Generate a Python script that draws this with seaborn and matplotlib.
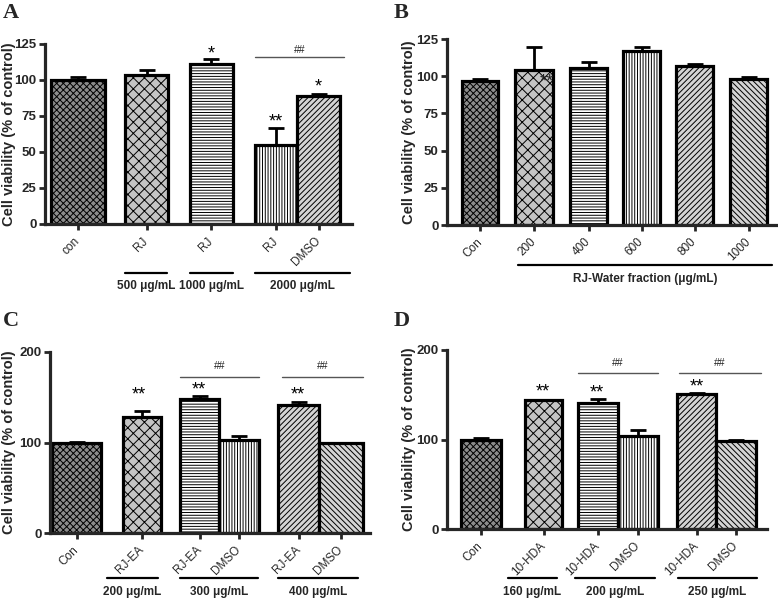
import numpy as np
import pandas as pd
import matplotlib
matplotlib.use("Agg")
import matplotlib.pyplot as plt
import seaborn as sns

# ---------------- data ----------------
A_labels = ['con', 'RJ', 'RJ', 'RJ', 'DMSO']
A_values = [100.0, 103.5, 111.3, 54.6, 88.7]
A_errors = [2.0, 3.2, 3.3, 12.3, 1.8]
A_marks = ['', '', '*', '**', '*']
A_mark_y = [0, 0, 120.8, 73.8, 98.1]
A_groups = ['500 μg/mL', '1000 μg/mL', '2000 μg/mL']

B_labels = ['Con', '200', '400', '600', '800', '1000']
B_values = [96.9, 104.1, 105.7, 117.1, 106.6, 98.0]
B_errors = [1.1, 15.2, 3.8, 2.7, 1.5, 1.6]
B_marks = ['', '**', '', '', '', '']
B_mark_y = [0, 99.1, 0, 0, 0, 0]
B_groups = ['RJ-Water fraction (μg/mL)']

C_labels = ['Con', 'RJ-EA', 'RJ-EA', 'DMSO', 'RJ-EA', 'DMSO']
C_values = [99.8, 128.5, 148.0, 102.4, 141.8, 99.0]
C_errors = [1.2, 6.5, 3.0, 4.6, 3.3, 1.0]
C_marks = ['', '**', '**', '', '**', '']
C_mark_y = [0, 157.0, 162.8, 0, 157.0, 0]
C_groups = ['200 μg/mL', '300 μg/mL', '400 μg/mL']

D_labels = ['Con', '10-HDA', '10-HDA', 'DMSO', '10-HDA', 'DMSO']
D_values = [100.0, 144.0, 140.5, 104.0, 151.0, 98.0]
D_errors = [2.0, 0.6, 4.5, 7.0, 0.6, 2.0]
D_marks = ['', '**', '**', '', '**', '']
D_mark_y = [0, 157.2, 157.0, 0, 162.8, 0]
D_groups = ['160 μg/mL', '200 μg/mL', '250 μg/mL']

YLABEL = 'Cell viability (% of control)'

# ---------------- style / layout ----------------
sns.set_style('ticks')
plt.rcParams['font.family'] = ['Liberation Sans', 'DejaVu Sans']
plt.rcParams['hatch.linewidth'] = 0.7

W, H = 778, 600
fig = plt.figure(figsize=(W / 100, H / 100), dpi=100)

CROSS = dict(h='xxxxx', fc='#8c8c8c')
CHECK = dict(h='xxx', fc='#c4c4c4')
HORZ = dict(h='------', fc='white')
VERT = dict(h='||||||', fc='white')
DIAG1 = dict(h='//////', fc='#d4d4d4')
DIAG2 = dict(h='\\\\\\\\\\\\', fc='#d4d4d4')

panels = [
    dict(letter='A', lpos=(3, 18), ylab_x=9, box=(45, 352, 44, 224), labels=A_labels, values=A_values,
         errors=A_errors, marks=A_marks, mark_y=A_mark_y, mark_x=[78, 146.5, 211, 276, 318.5],
         centers=[78, 146.5, 211, 276, 318.5], widths=[54, 43, 43, 42, 43],
         styles=[CROSS, CHECK, HORZ, VERT, DIAG1], ymax=125, yticks=[0, 25, 50, 75, 100, 125],
         groups=A_groups, gspans=[(125, 167), (190, 233), (255, 350)], gline_y=273, gtext_y=286,
         sig=[(255, 344, 116, 121)], mark_color='black'),
    dict(letter='B', lpos=(394, 18), ylab_x=409, box=(447, 777, 39, 225), labels=B_labels, values=B_values,
         errors=B_errors, marks=B_marks, mark_y=B_mark_y, mark_x=[480.5, 547, 588.5, 641.5, 694.5, 748.5],
         centers=[480.5, 534, 588.5, 641.5, 694.5, 748.5], widths=[36, 38, 37, 37, 37, 37],
         styles=[CROSS, CHECK, HORZ, VERT, DIAG1, DIAG2], ymax=125, yticks=[0, 25, 50, 75, 100, 125],
         groups=B_groups, gspans=[(518, 772)], gline_y=265, gtext_y=279, sig=[], mark_color='#222222'),
    dict(letter='C', lpos=(3, 326), ylab_x=9, box=(50, 370, 352, 533), labels=C_labels, values=C_values,
         errors=C_errors, marks=C_marks, mark_y=C_mark_y, mark_x=[76.5, 139, 199, 239, 298, 341],
         centers=[76.5, 142, 199.5, 239, 298.5, 341], widths=[49, 38, 39, 40, 41, 44],
         styles=[CROSS, CHECK, HORZ, VERT, DIAG1, DIAG2], ymax=200, yticks=[0, 100, 200],
         groups=C_groups, gspans=[(107, 158), (180, 258), (278, 358)], gline_y=578, gtext_y=592,
         sig=[(180, 259, 172.7, 185), (282, 363, 172.7, 185)], mark_color='black'),
    dict(letter='D', lpos=(394, 326), ylab_x=409, box=(447, 767, 350, 529), labels=D_labels, values=D_values,
         errors=D_errors, marks=D_marks, mark_y=D_mark_y, mark_x=[481, 543, 597, 638, 697, 736],
         centers=[481, 543.5, 598, 638, 696.5, 736], widths=[40, 37, 40, 40, 39, 40],
         styles=[CROSS, CHECK, HORZ, VERT, DIAG1, DIAG2], ymax=200, yticks=[0, 100, 200],
         groups=D_groups, gspans=[(508, 557), (575, 655), (678, 757)], gline_y=578, gtext_y=592,
         sig=[(578, 658, 174.6, 186), (679, 761, 174.6, 186)], mark_color='black'),
]

for p in panels:
    l, r, t, b = p['box']
    ax = fig.add_axes([l / W, 1 - b / H, (r - l) / W, (b - t) / H])
    x = [c - l for c in p['centers']]
    df = pd.DataFrame({'pos': x, 'value': p['values']})
    sns.barplot(data=df, x='pos', y='value', native_scale=True, width=1.0, errorbar=None,
                color='white', edgecolor='black', linewidth=2.3, ax=ax, zorder=2)
    for patch, cx, w, st in zip(ax.patches, x, p['widths'], p['styles']):
        patch.set_width(w)
        patch.set_x(cx - w / 2)
        patch.set_facecolor(st['fc'])
        patch.set_hatch(st['h'])
        patch.set_edgecolor('black')
    n = len(x)
    ax.errorbar(x, p['values'], yerr=[np.zeros(n), p['errors']], fmt='none', ecolor='black',
                elinewidth=2.0, capsize=6, capthick=2.0, zorder=3)

    ax.set_xlim(0, r - l)
    ax.set_ylim(0, p['ymax'])
    ax.set_yticks(p['yticks'])
    ax.set_yticklabels([str(v) for v in p['yticks']], fontsize=9.5, fontweight='bold')
    ax.set_xticks(x)
    ax.set_xticklabels(p['labels'], rotation=45, ha='right', va='center',
                       rotation_mode='anchor', fontsize=8.5)
    ax.tick_params(axis='both', direction='out', length=4, width=2, pad=2)
    ax.tick_params(axis='x', pad=7)
    for s in ['top', 'right']:
        ax.spines[s].set_visible(False)
    for s in ['left', 'bottom']:
        ax.spines[s].set_linewidth(2.3)
    ax.set_xlabel('')
    ax.set_ylabel(YLABEL, fontsize=10.5, fontweight='bold', va='center', ha='center')
    ax.yaxis.set_label_coords((p['ylab_x'] - l) / (r - l), 0.5)

    # data units per pixel
    dpp = p['ymax'] / (b - t)
    for mk, my, mx in zip(p['marks'], p['mark_y'], p['mark_x']):
        if mk:
            ax.text(mx - l, my - 8.5 * dpp, mk, ha='center', va='baseline', fontsize=13,
                    color=p['mark_color'], zorder=4)
    for x0, x1, yl, yt in p['sig']:
        ax.plot([x0 - l, x1 - l], [yl, yl], color='#555555', lw=1.0, clip_on=False)
        ax.text((x0 + x1) / 2 - l, yt, '##', ha='center', va='center', fontsize=7.5,
                color='#222222')

    tr = ax.get_xaxis_transform()
    for g, (x0, x1) in zip(p['groups'], p['gspans']):
        yl = (b - p['gline_y']) / (b - t)
        yt = (b - p['gtext_y']) / (b - t)
        ax.plot([x0 - l, x1 - l], [yl, yl], color='black', lw=1.6, transform=tr, clip_on=False)
        ax.text((x0 + x1) / 2 - l, yt, g, ha='center', va='center', transform=tr,
                fontsize=8.5, fontweight='bold')

    fig.text(p['lpos'][0] / W, 1 - p['lpos'][1] / H, p['letter'], fontsize=16,
             fontweight='bold', family=['Liberation Serif', 'DejaVu Serif'], va='baseline')

fig.savefig('out.png', dpi=100)
